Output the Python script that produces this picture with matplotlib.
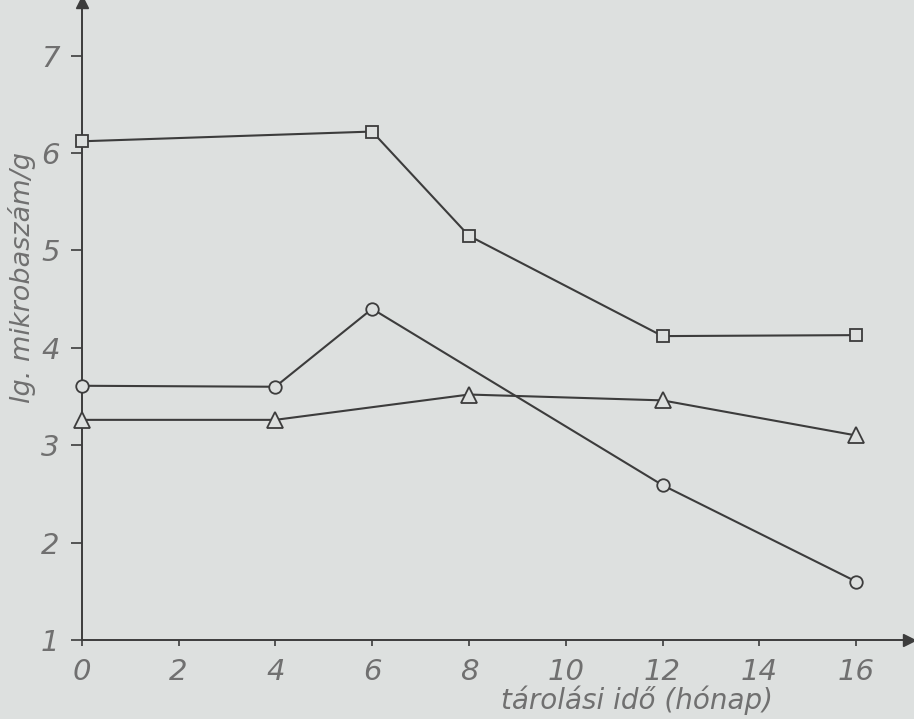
import matplotlib
matplotlib.use("Agg")
import matplotlib.pyplot as plt

# =====================================================
# DATA
# =====================================================

sq_months    = [0, 6, 8, 12, 16]
sq_values    = [6.12, 6.22, 5.15, 4.12, 4.13]

circ_months  = [0, 4, 6, 12, 16]
circ_values  = [3.61, 3.60, 4.40, 2.59, 1.60]

tri_months   = [0, 4, 8, 12, 16]
tri_values   = [3.26, 3.26, 3.52, 3.46, 3.10]

x_ticks      = [0, 2, 4, 6, 8, 10, 12, 14, 16]
y_ticks      = [1, 2, 3, 4, 5, 6, 7]

X_LABEL = "tárolási idő (hónap)"
Y_LABEL = "lg. mikrobaszám/g"

# =====================================================
# STYLE
# =====================================================

PAPER  = '#dde0df'
INK    = '#3c3c3c'
PENCIL = '#707070'
FONT   = ['DejaVu Sans']

fig = plt.figure(figsize=(9.14, 7.19), dpi=100, facecolor=PAPER)
ax = fig.add_axes([0.0894, 0.1099, 0.9055, 0.8873])
ax.set_facecolor(PAPER)

common = dict(color=INK, linewidth=1.5, markerfacecolor=PAPER,
              markeredgecolor=INK, markeredgewidth=1.3, clip_on=False, zorder=3)

ax.plot(sq_months, sq_values, marker='s', markersize=9, **common)
ax.plot(circ_months, circ_values, marker='o', markersize=9, **common)
ax.plot(tri_months, tri_values, marker='^', markersize=12, **common)

ax.set_xlim(0, 17.1)
ax.set_ylim(1, 7.55)

for side in ['top', 'right']:
    ax.spines[side].set_visible(False)
for side in ['left', 'bottom']:
    ax.spines[side].set_color(INK)
    ax.spines[side].set_linewidth(1.4)

# arrow heads on the axes
ax.plot(1, 0, '>', color=INK, markersize=8, transform=ax.transAxes, clip_on=False)
ax.plot(0, 1, '^', color=INK, markersize=8, transform=ax.transAxes, clip_on=False)

ax.set_xticks(x_ticks)
ax.set_yticks(y_ticks)
ax.tick_params(axis='x', direction='out', length=4, width=1.2, color=INK, pad=9)
ax.tick_params(axis='y', direction='out', length=8, width=1.2, color=INK, pad=8)

for lab in ax.get_xticklabels() + ax.get_yticklabels():
    lab.set_family(FONT)
    lab.set_fontsize(21)
    lab.set_style('italic')
    lab.set_weight('light')
    lab.set_color(PENCIL)

fig.text(637 / 914, 1 - 700 / 719, X_LABEL, ha='center', va='center',
         fontsize=20, style='italic', weight='light', color=PENCIL, family=FONT)
fig.text(22 / 914, 1 - 278 / 719, Y_LABEL, ha='center', va='center',
         rotation=90, fontsize=19.5, style='italic', weight='light',
         color=PENCIL, family=FONT)

plt.savefig("out.png", dpi=100, facecolor=PAPER)
